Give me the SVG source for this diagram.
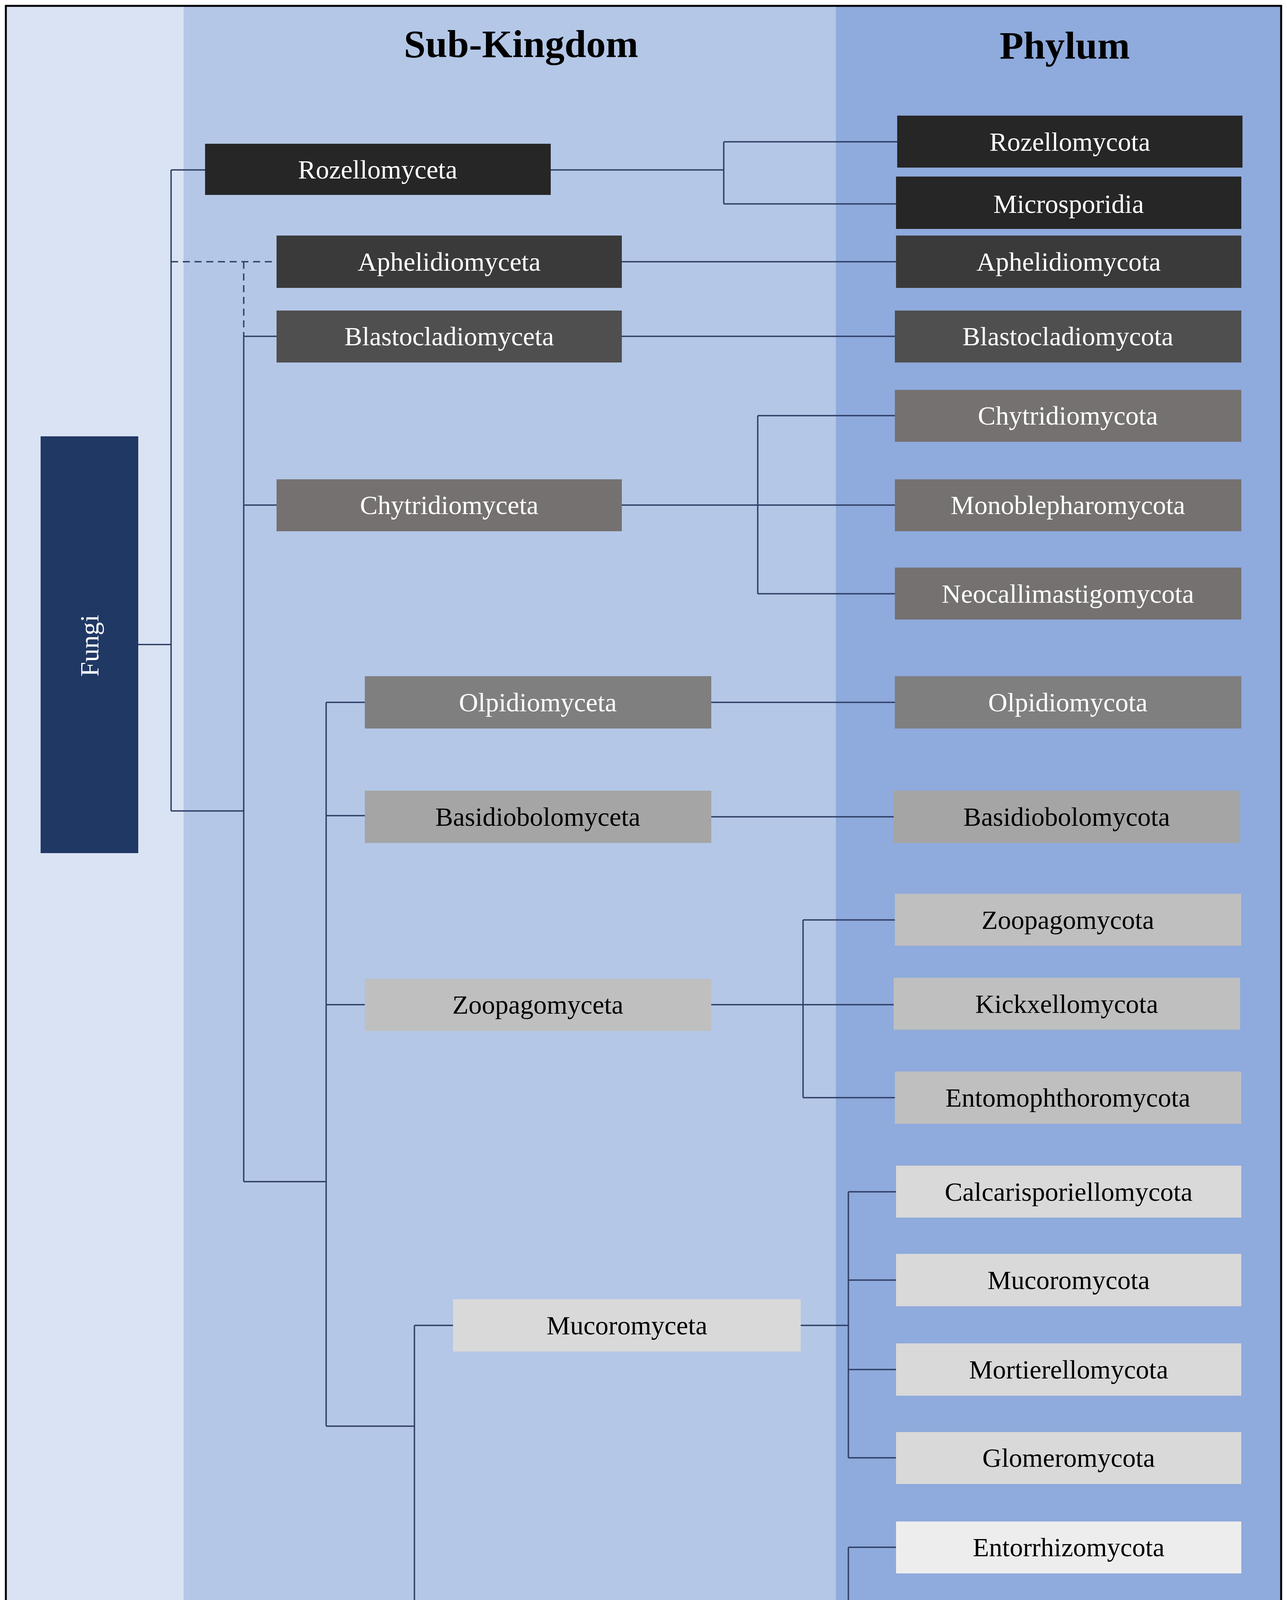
<svg xmlns="http://www.w3.org/2000/svg" width="3295" height="4541" viewBox="0 0 3295 4541">
<style>
.t{font-family:"Liberation Serif","DejaVu Serif",serif;font-size:68px;text-anchor:middle;dominant-baseline:central}
.w{fill:#ffffff}.k{fill:#000000}
.h{font-family:"Liberation Serif","DejaVu Serif",serif;font-size:100px;font-weight:bold;text-anchor:middle;fill:#000}
.c{stroke:#2f3f66;stroke-width:3.5;fill:none}
.d{stroke-dasharray:18 12}
</style>
<rect x="0" y="0" width="3295" height="4541" fill="#fff"/>
<rect x="15" y="15" width="455" height="4512" fill="#dae3f3"/>
<rect x="470" y="15" width="1670" height="4512" fill="#b4c7e7"/>
<rect x="2140" y="15" width="1140" height="4512" fill="#8faadc"/>
<rect x="15" y="15" width="3265" height="4512" fill="none" stroke="#000" stroke-width="5"/>
<text class="h" x="1334" y="146">Sub-Kingdom</text>
<text class="h" x="2726" y="150">Phylum</text>
<g id="connectors">
<path class="c" d="M354,1650H438M438,435V2076M438,435H525M438,2076H624M624,861V3025M624,861H708M624,1293H708M624,3025H835M835,1798V3651M835,1798H934M835,2088H934M835,2572H934M835,3651H1061M1061,3393V4188M1061,3393H1160M1061,4188H1160"/>
<path class="c d" d="M438,670H708M624,670V861"/>
<path class="c" d="M1410,435H1853M1853,363V522M1853,363H2297M1853,522H2294M1592,670H2294M1592,861H2294M1592,1293H1940M1940,1064V1520M1940,1064H2291M1940,1293H2291M1940,1520H2291M1821,1798H2291M1821,2091H2291M1821,2572H2056M2056,2355V2810M2056,2355H2291M2056,2572H2288M2056,2810H2291M2050,3393H2172M2172,3051V3732M2172,3051H2297M2172,3277H2297M2172,3506H2297M2172,3732H2297M2050,4188H2172M2172,3961V4417M2172,3961H2297M2172,4188H2297M2172,4417H2297"/>
</g>
<g id="fungi"><rect x="104" y="1117" width="250" height="1067" fill="#203864"/><text class="t w" transform="translate(229,1653) rotate(-90)">Fungi</text></g>
<g id="rozellomyceta"><rect x="525" y="368" width="885" height="131" fill="#262626"/><text class="t w" x="967" y="434">Rozellomyceta</text></g>
<g id="aphelidiomyceta"><rect x="708" y="603" width="884" height="134" fill="#3a3a3a"/><text class="t w" x="1150" y="670">Aphelidiomyceta</text></g>
<g id="blastocladiomyceta"><rect x="708" y="795" width="884" height="133" fill="#4f4f4f"/><text class="t w" x="1150" y="861">Blastocladiomyceta</text></g>
<g id="chytridiomyceta"><rect x="708" y="1227" width="884" height="133" fill="#767171"/><text class="t w" x="1150" y="1293">Chytridiomyceta</text></g>
<g id="olpidiomyceta"><rect x="934" y="1731" width="887" height="134" fill="#7f7f7f"/><text class="t w" x="1377" y="1798">Olpidiomyceta</text></g>
<g id="basidiobolomyceta"><rect x="934" y="2024" width="887" height="134" fill="#a5a5a5"/><text class="t k" x="1377" y="2091">Basidiobolomyceta</text></g>
<g id="zoopagomyceta"><rect x="934" y="2506" width="887" height="133" fill="#bfbfbf"/><text class="t k" x="1377" y="2572">Zoopagomyceta</text></g>
<g id="mucoromyceta"><rect x="1160" y="3326" width="890" height="134" fill="#d9d9d9"/><text class="t k" x="1605" y="3393">Mucoromyceta</text></g>
<g id="dikarya"><rect x="1160" y="4121" width="890" height="133" fill="#ededed"/><text class="t k" x="1605" y="4188">Dikarya</text></g>
<g id="rozellomycota"><rect x="2297" y="296" width="884" height="133" fill="#262626"/><text class="t w" x="2739" y="363">Rozellomycota</text></g>
<g id="microsporidia"><rect x="2294" y="452" width="884" height="134" fill="#262626"/><text class="t w" x="2736" y="522">Microsporidia</text></g>
<g id="aphelidiomycota"><rect x="2294" y="603" width="884" height="134" fill="#3a3a3a"/><text class="t w" x="2736" y="670">Aphelidiomycota</text></g>
<g id="blastocladiomycota"><rect x="2291" y="795" width="887" height="133" fill="#4f4f4f"/><text class="t w" x="2734" y="861">Blastocladiomycota</text></g>
<g id="chytridiomycota"><rect x="2291" y="998" width="887" height="133" fill="#767171"/><text class="t w" x="2734" y="1064">Chytridiomycota</text></g>
<g id="monoblepharomycota"><rect x="2291" y="1227" width="887" height="133" fill="#767171"/><text class="t w" x="2734" y="1293">Monoblepharomycota</text></g>
<g id="neocallimastigomycota"><rect x="2291" y="1453" width="887" height="133" fill="#767171"/><text class="t w" x="2734" y="1520">Neocallimastigomycota</text></g>
<g id="olpidiomycota"><rect x="2291" y="1731" width="887" height="134" fill="#7f7f7f"/><text class="t w" x="2734" y="1798">Olpidiomycota</text></g>
<g id="basidiobolomycota"><rect x="2288" y="2024" width="887" height="134" fill="#a5a5a5"/><text class="t k" x="2731" y="2091">Basidiobolomycota</text></g>
<g id="zoopagomycota"><rect x="2291" y="2288" width="887" height="133" fill="#bfbfbf"/><text class="t k" x="2734" y="2355">Zoopagomycota</text></g>
<g id="kickxellomycota"><rect x="2288" y="2503" width="887" height="133" fill="#bfbfbf"/><text class="t k" x="2731" y="2570">Kickxellomycota</text></g>
<g id="entomophthoromycota"><rect x="2291" y="2743" width="887" height="134" fill="#bfbfbf"/><text class="t k" x="2734" y="2810">Entomophthoromycota</text></g>
<g id="calcarisporiellomycota"><rect x="2294" y="2984" width="884" height="133" fill="#d9d9d9"/><text class="t k" x="2736" y="3051">Calcarisporiellomycota</text></g>
<g id="mucoromycota"><rect x="2294" y="3210" width="884" height="134" fill="#d9d9d9"/><text class="t k" x="2736" y="3277">Mucoromycota</text></g>
<g id="mortierellomycota"><rect x="2294" y="3439" width="884" height="134" fill="#d9d9d9"/><text class="t k" x="2736" y="3506">Mortierellomycota</text></g>
<g id="glomeromycota"><rect x="2294" y="3666" width="884" height="133" fill="#d9d9d9"/><text class="t k" x="2736" y="3732">Glomeromycota</text></g>
<g id="entorrhizomycota"><rect x="2294" y="3895" width="884" height="133" fill="#ededed"/><text class="t k" x="2736" y="3961">Entorrhizomycota</text></g>
<g id="basidiomycota"><rect x="2294" y="4121" width="884" height="133" fill="#ededed"/><text class="t k" x="2736" y="4188">Basidiomycota</text></g>
<g id="ascomycota"><rect x="2294" y="4350" width="884" height="133" fill="#ededed"/><text class="t k" x="2736" y="4417">Ascomycota</text></g>
</svg>
